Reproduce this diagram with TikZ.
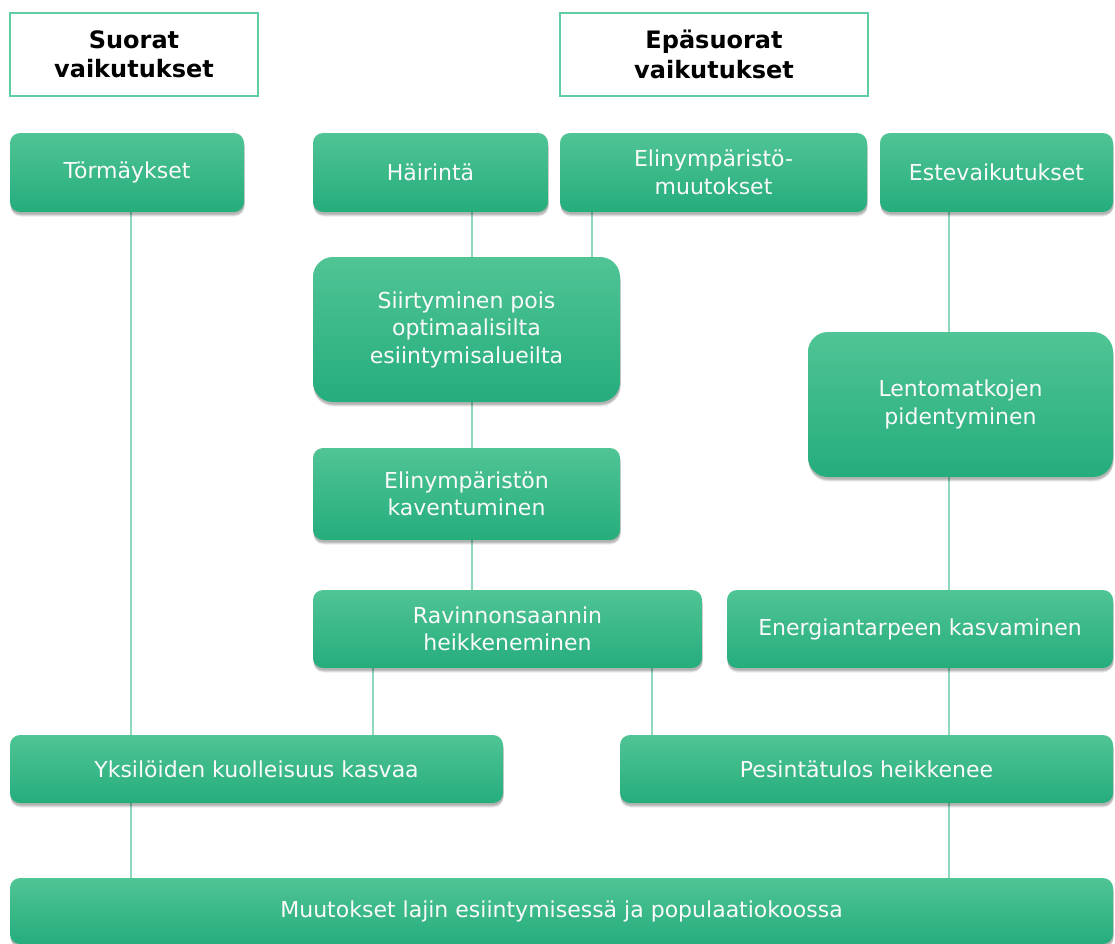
\documentclass[tikz,border=0pt]{standalone}
\usepackage{fontspec}
\setmainfont{DejaVu Sans}
\usetikzlibrary{shadows,backgrounds}
\definecolor{gTop}{HTML}{50C495}
\definecolor{gMid}{HTML}{2DC089}
\definecolor{gBot}{HTML}{25AD7C}
\definecolor{hdBorder}{HTML}{60CEA2}
\definecolor{conn}{HTML}{8ED8BC}
\tikzset{
  box/.style={rounded corners=10pt, top color=gTop, middle color=gMid, bottom color=gBot,
    draw=none, text=white!96!gray, align=center, inner sep=0pt,
    font=\fontsize{22}{27.5}\selectfont,
    drop shadow={shadow xshift=0.5pt, shadow yshift=-4.5pt, opacity=.08, fill=black},
    drop shadow={shadow xshift=0.5pt, shadow yshift=-3.5pt, opacity=.10, fill=black},
    drop shadow={shadow xshift=0.5pt, shadow yshift=-2.5pt, opacity=.14, fill=black}},
  bigbox/.style={box, rounded corners=20pt},
  header/.style={draw=hdBorder, line width=2pt, fill=white, align=center, inner sep=0pt,
    font=\fontsize{24}{29.5}\selectfont\bfseries},
  link/.style={draw=conn, line width=1.3pt}
}
\begin{document}
\begin{tikzpicture}[x=1pt,y=-1pt]
\useasboundingbox (0,0) rectangle (1115,943);
% headers
\node[header, minimum width=248pt, minimum height=83pt] (hd1) at (134,54.5) {Suorat\\vaikutukset};
\node[header, minimum width=308pt, minimum height=83pt] (hd2) at (714,54.5) {Epäsuorat\\vaikutukset};
% coordinates for connector x positions
\coordinate (x131) at (131,0);
\coordinate (x472) at (472,0);
\coordinate (x592) at (592,0);
\coordinate (x949) at (949,0);
\coordinate (x373) at (373,0);
\coordinate (x652) at (652,0);
% boxes
\node[box, minimum width=234pt, minimum height=79pt] (tor) at (127,172.5) {Törmäykset};
\node[box, minimum width=235pt, minimum height=79pt] (hai) at (430.5,172.5) {Häirintä};
\node[box, minimum width=307pt, minimum height=79pt] (eli) at (713.5,172.5) {Elinympäristö-\\muutokset};
\node[box, minimum width=233pt, minimum height=79pt] (est) at (996.5,172.5) {Estevaikutukset};
\node[bigbox, minimum width=307pt, minimum height=145pt] (sii) at (466.5,329.5) {Siirtyminen pois\\optimaalisilta\\esiintymisalueilta};
\node[bigbox, minimum width=305pt, minimum height=145pt] (len) at (960.5,404.5) {Lentomatkojen\\pidentyminen};
\node[box, minimum width=307pt, minimum height=92pt] (kav) at (466.5,494) {Elinympäristön\\kaventuminen};
\node[box, minimum width=389pt, minimum height=78pt] (rav) at (507.5,629) {Ravinnonsaannin\\heikkeneminen};
\node[box, minimum width=386pt, minimum height=78pt] (ene) at (920,629) {Energiantarpeen kasvaminen};
\node[box, minimum width=493pt, minimum height=68pt] (yks) at (256.5,769) {Yksilöiden kuolleisuus kasvaa};
\node[box, minimum width=493pt, minimum height=68pt] (pes) at (866.5,769) {Pesintätulos heikkenee};
\node[box, minimum width=1103pt, minimum height=66pt] (muu) at (561.5,911) {Muutokset lajin esiintymisessä ja populaatiokoossa};
% connectors
\begin{scope}[on background layer]
\draw[link] (tor.south -| x131) -- (yks.north -| x131);
\draw[link] (yks.south -| x131) -- (muu.north -| x131);
\draw[link] (hai.south -| x472) -- (sii.north -| x472);
\draw[link] (eli.south -| x592) -- (sii.north -| x592);
\draw[link] (sii.south -| x472) -- (kav.north -| x472);
\draw[link] (kav.south -| x472) -- (rav.north -| x472);
\draw[link] (rav.south -| x373) -- (yks.north -| x373);
\draw[link] (rav.south -| x652) -- (pes.north -| x652);
\draw[link] (est.south -| x949) -- (len.north -| x949);
\draw[link] (len.south -| x949) -- (ene.north -| x949);
\draw[link] (ene.south -| x949) -- (pes.north -| x949);
\draw[link] (pes.south -| x949) -- (muu.north -| x949);
\end{scope}
\end{tikzpicture}
\end{document}
